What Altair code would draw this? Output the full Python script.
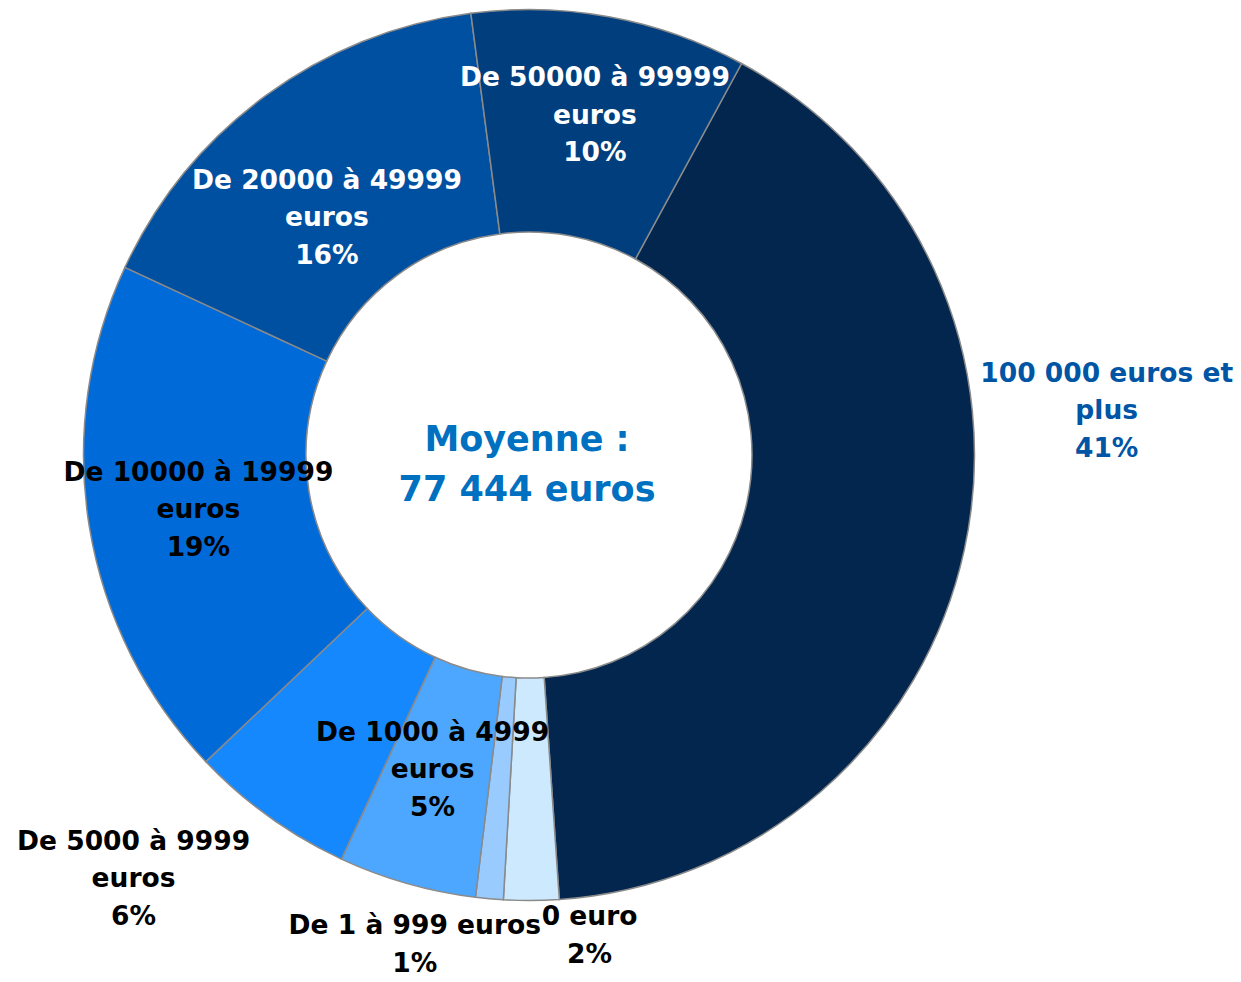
import math
import altair as alt
import pandas as pd

# ---- data ----
categories = [
    "100 000 euros et plus",
    "0 euro",
    "De 1 à 999 euros",
    "De 1000 à 4999 euros",
    "De 5000 à 9999 euros",
    "De 10000 à 19999 euros",
    "De 20000 à 49999 euros",
    "De 50000 à 99999 euros",
]
values = [41, 2, 1, 5, 6, 19, 16, 10]
label_lines = [
    "100 000 euros et\nplus",
    "0 euro",
    "De 1 à 999 euros",
    "De 1000 à 4999\neuros",
    "De 5000 à 9999\neuros",
    "De 10000 à 19999\neuros",
    "De 20000 à 49999\neuros",
    "De 50000 à 99999\neuros",
]
center_text = "Moyenne :\n77 444 euros"

# ---- styles ----
colors = ["#03264f", "#cce9fe", "#9acbfe", "#4ea7ff", "#1688fe", "#006ad9", "#0050a1", "#013e7e"]
LH = 37.5
# radius, dx, dy (of block centre), text colour
label_place = {
    "100 000 euros et plus": (579, 12, -167, "#0055a5"),
    "0 euro": (485, 58, -4, "black"),
    "De 1 à 999 euros": (509, -69, -17, "black"),
    "De 1000 à 4999 euros": (330, -6, -2, "black"),
    "De 5000 à 9999 euros": (580, -57, -47, "black"),
    "De 10000 à 19999 euros": (335, 0, 1, "black"),
    "De 20000 à 49999 euros": (311, -18, 14, "white"),
    "De 50000 à 99999 euros": (345, 3, 0, "white"),
}

df = pd.DataFrame({
    "cat": categories,
    "value": values,
    "idx": list(range(len(categories))),
    "label": [f"{l}\n{v}%" for l, v in zip(label_lines, values)],
})

start = math.radians(28.5)
theta_scale = alt.Scale(domain=[0, 100], range=[start, start + 2 * math.pi])

W, H = 1042, 894
FONT = "DejaVu Sans"

base = (
    alt.Chart(df)
    .transform_window(cum="sum(value)", frame=[None, 0], sort=[alt.SortField("idx")])
    .transform_calculate(
        start="datum.cum - datum.value",
        mid="datum.cum - datum.value / 2",
    )
)

arcs = base.mark_arc(outerRadius=445.5, innerRadius=223, stroke="#8a8a8a", strokeWidth=1.5).encode(
    theta=alt.Theta("start:Q", scale=theta_scale),
    theta2="cum:Q",
    color=alt.Color("cat:N", scale=alt.Scale(domain=categories, range=colors), legend=None),
)

layers = [arcs]
for c, lab in zip(categories, df["label"]):
    r, dx, dy, col = label_place[c]
    n = lab.count("\n") + 1
    layers.append(
        base.transform_filter(alt.datum.cat == c)
        .mark_text(
            radius=r, dx=dx, dy=dy - (n - 1) / 2 * LH, color=col, font=FONT, fontSize=26.5,
            fontWeight="bold", lineBreak="\n", lineHeight=LH, align="center", baseline="middle",
        )
        .encode(theta=alt.Theta("mid:Q", scale=theta_scale), text="label:N")
    )

center = (
    alt.Chart(pd.DataFrame({"t": [center_text]}))
    .mark_text(
        font=FONT, fontSize=35, fontWeight="bold", color="#0070c0", lineBreak="\n",
        lineHeight=50, align="center", baseline="middle", dx=-2, dy=-15,
    )
    .encode(text="t:N")
)
layers.append(center)

chart = (
    alt.layer(*layers)
    .properties(
        width=W,
        height=H,
        autosize=alt.AutoSizeParams(type="none"),
        padding={"left": 0, "top": 0, "right": 183, "bottom": 74},
    )
    .configure_view(stroke=None)
)

chart.save("out.html", embed_options={"renderer": "svg", "actions": False})
